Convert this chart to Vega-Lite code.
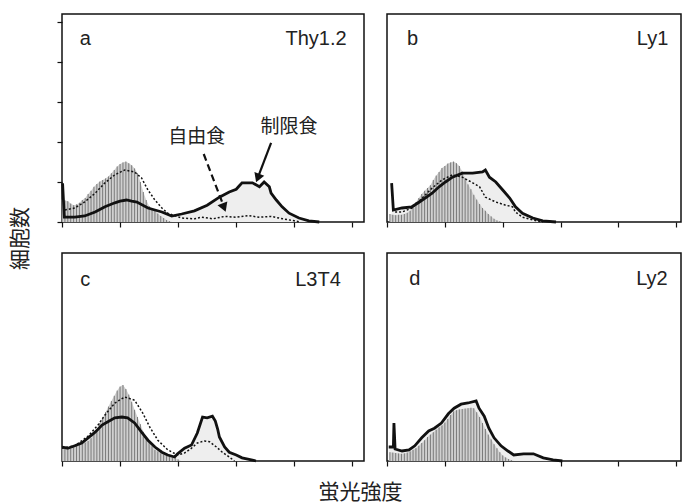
{
"$schema": "https://vega.github.io/schema/vega-lite/v6.json",
"background": "white",
"padding": {"left": 8, "top": 13, "right": 0, "bottom": 0},
"config": {"view": {"stroke": "#111", "strokeWidth": 1.5}, "axis": {"grid": false, "labels": false, "domain": false, "ticks": true, "tickColor": "#111", "tickSize": 5, "tickWidth": 1.2}},
"datasets": {
"labels": [
{"p":"a","letter":"a","marker":"Thy1.2"},
{"p":"b","letter":"b","marker":"Ly1"},
{"p":"c","letter":"c","marker":"L3T4"},
{"p":"d","letter":"d","marker":"Ly2"}
],
"notes": [
{"p":"a","diet":"自由食"},
{"p":"a","diet":"制限食"}
],
"curves": [
{"p":"a","s":"対照","x":0,"y":56},{"p":"a","s":"対照","x":0.05,"y":54},{"p":"a","s":"対照","x":0.1,"y":52},{"p":"a","s":"対照","x":0.15,"y":46},{"p":"a","s":"対照","x":0.2,"y":42},{"p":"a","s":"対照","x":0.25,"y":44},{"p":"a","s":"対照","x":0.3,"y":48},{"p":"a","s":"対照","x":0.35,"y":55},{"p":"a","s":"対照","x":0.4,"y":60},{"p":"a","s":"対照","x":0.45,"y":70},{"p":"a","s":"対照","x":0.5,"y":78},{"p":"a","s":"対照","x":0.55,"y":88},{"p":"a","s":"対照","x":0.6,"y":95},{"p":"a","s":"対照","x":0.65,"y":101},{"p":"a","s":"対照","x":0.7,"y":105},{"p":"a","s":"対照","x":0.75,"y":109},{"p":"a","s":"対照","x":0.8,"y":114},{"p":"a","s":"対照","x":0.85,"y":122},{"p":"a","s":"対照","x":0.9,"y":130},{"p":"a","s":"対照","x":0.95,"y":139},{"p":"a","s":"対照","x":1,"y":145},{"p":"a","s":"対照","x":1.05,"y":149},{"p":"a","s":"対照","x":1.1,"y":151},{"p":"a","s":"対照","x":1.15,"y":147},{"p":"a","s":"対照","x":1.2,"y":142},{"p":"a","s":"対照","x":1.25,"y":134},{"p":"a","s":"対照","x":1.3,"y":122},{"p":"a","s":"対照","x":1.35,"y":100},{"p":"a","s":"対照","x":1.4,"y":75},{"p":"a","s":"対照","x":1.45,"y":55},{"p":"a","s":"対照","x":1.5,"y":40},{"p":"a","s":"対照","x":1.55,"y":33},{"p":"a","s":"対照","x":1.6,"y":28},{"p":"a","s":"対照","x":1.65,"y":21},{"p":"a","s":"対照","x":1.7,"y":15},{"p":"a","s":"対照","x":1.75,"y":10},{"p":"a","s":"対照","x":1.8,"y":5},{"p":"a","s":"対照","x":1.85,"y":2},{"p":"a","s":"対照","x":1.9,"y":0},
{"p":"a","s":"自由食","x":0.05,"y":30},{"p":"a","s":"自由食","x":0.22,"y":35},{"p":"a","s":"自由食","x":0.39,"y":50},{"p":"a","s":"自由食","x":0.57,"y":72},{"p":"a","s":"自由食","x":0.74,"y":98},{"p":"a","s":"自由食","x":0.91,"y":118},{"p":"a","s":"自由食","x":1.08,"y":130},{"p":"a","s":"自由食","x":1.25,"y":125},{"p":"a","s":"自由食","x":1.37,"y":110},{"p":"a","s":"自由食","x":1.48,"y":80},{"p":"a","s":"自由食","x":1.6,"y":55},{"p":"a","s":"自由食","x":1.72,"y":35},{"p":"a","s":"自由食","x":1.82,"y":22},{"p":"a","s":"自由食","x":2.06,"y":10},{"p":"a","s":"自由食","x":2.28,"y":8},{"p":"a","s":"自由食","x":2.4,"y":12},{"p":"a","s":"自由食","x":2.6,"y":8},{"p":"a","s":"自由食","x":2.8,"y":14},{"p":"a","s":"自由食","x":3.0,"y":12},{"p":"a","s":"自由食","x":3.2,"y":16},{"p":"a","s":"自由食","x":3.4,"y":12},{"p":"a","s":"自由食","x":3.6,"y":14},{"p":"a","s":"自由食","x":3.8,"y":8},{"p":"a","s":"自由食","x":4.0,"y":3},{"p":"a","s":"自由食","x":4.1,"y":0},
{"p":"a","s":"制限食","x":0.01,"y":97},{"p":"a","s":"制限食","x":0.04,"y":12},{"p":"a","s":"制限食","x":0.22,"y":12},{"p":"a","s":"制限食","x":0.39,"y":15},{"p":"a","s":"制限食","x":0.57,"y":25},{"p":"a","s":"制限食","x":0.74,"y":38},{"p":"a","s":"制限食","x":0.91,"y":48},{"p":"a","s":"制限食","x":1.0,"y":52},{"p":"a","s":"制限食","x":1.11,"y":55},{"p":"a","s":"制限食","x":1.2,"y":52},{"p":"a","s":"制限食","x":1.29,"y":50},{"p":"a","s":"制限食","x":1.48,"y":35},{"p":"a","s":"制限食","x":1.72,"y":25},{"p":"a","s":"制限食","x":1.89,"y":15},{"p":"a","s":"制限食","x":2.06,"y":20},{"p":"a","s":"制限食","x":2.28,"y":28},{"p":"a","s":"制限食","x":2.5,"y":42},{"p":"a","s":"制限食","x":2.71,"y":62},{"p":"a","s":"制限食","x":2.88,"y":75},{"p":"a","s":"制限食","x":3.0,"y":82},{"p":"a","s":"制限食","x":3.05,"y":90},{"p":"a","s":"制限食","x":3.1,"y":98},{"p":"a","s":"制限食","x":3.28,"y":98},{"p":"a","s":"制限食","x":3.4,"y":88},{"p":"a","s":"制限食","x":3.48,"y":100},{"p":"a","s":"制限食","x":3.57,"y":88},{"p":"a","s":"制限食","x":3.6,"y":72},{"p":"a","s":"制限食","x":3.69,"y":55},{"p":"a","s":"制限食","x":3.79,"y":38},{"p":"a","s":"制限食","x":3.91,"y":22},{"p":"a","s":"制限食","x":4.08,"y":10},{"p":"a","s":"制限食","x":4.25,"y":3},{"p":"a","s":"制限食","x":4.43,"y":0},
{"p":"b","s":"対照","x":0.05,"y":20},{"p":"b","s":"対照","x":0.1,"y":18},{"p":"b","s":"対照","x":0.15,"y":17},{"p":"b","s":"対照","x":0.2,"y":18},{"p":"b","s":"対照","x":0.25,"y":18},{"p":"b","s":"対照","x":0.3,"y":20},{"p":"b","s":"対照","x":0.35,"y":23},{"p":"b","s":"対照","x":0.4,"y":28},{"p":"b","s":"対照","x":0.45,"y":38},{"p":"b","s":"対照","x":0.5,"y":50},{"p":"b","s":"対照","x":0.55,"y":60},{"p":"b","s":"対照","x":0.6,"y":70},{"p":"b","s":"対照","x":0.65,"y":78},{"p":"b","s":"対照","x":0.7,"y":85},{"p":"b","s":"対照","x":0.75,"y":92},{"p":"b","s":"対照","x":0.8,"y":105},{"p":"b","s":"対照","x":0.85,"y":116},{"p":"b","s":"対照","x":0.9,"y":125},{"p":"b","s":"対照","x":0.95,"y":135},{"p":"b","s":"対照","x":1.0,"y":140},{"p":"b","s":"対照","x":1.05,"y":146},{"p":"b","s":"対照","x":1.1,"y":149},{"p":"b","s":"対照","x":1.15,"y":151},{"p":"b","s":"対照","x":1.2,"y":147},{"p":"b","s":"対照","x":1.25,"y":140},{"p":"b","s":"対照","x":1.3,"y":126},{"p":"b","s":"対照","x":1.35,"y":110},{"p":"b","s":"対照","x":1.4,"y":94},{"p":"b","s":"対照","x":1.45,"y":82},{"p":"b","s":"対照","x":1.5,"y":68},{"p":"b","s":"対照","x":1.55,"y":56},{"p":"b","s":"対照","x":1.6,"y":45},{"p":"b","s":"対照","x":1.65,"y":35},{"p":"b","s":"対照","x":1.7,"y":28},{"p":"b","s":"対照","x":1.75,"y":20},{"p":"b","s":"対照","x":1.8,"y":14},{"p":"b","s":"対照","x":1.85,"y":8},{"p":"b","s":"対照","x":1.9,"y":4},{"p":"b","s":"対照","x":1.95,"y":2},{"p":"b","s":"対照","x":2.0,"y":0},
{"p":"b","s":"自由食","x":0.14,"y":25},{"p":"b","s":"自由食","x":0.26,"y":25},{"p":"b","s":"自由食","x":0.43,"y":35},{"p":"b","s":"自由食","x":0.61,"y":60},{"p":"b","s":"自由食","x":0.78,"y":85},{"p":"b","s":"自由食","x":0.95,"y":105},{"p":"b","s":"自由食","x":1.13,"y":118},{"p":"b","s":"自由食","x":1.3,"y":112},{"p":"b","s":"自由食","x":1.48,"y":98},{"p":"b","s":"自由食","x":1.6,"y":88},{"p":"b","s":"自由食","x":1.7,"y":62},{"p":"b","s":"自由食","x":1.88,"y":50},{"p":"b","s":"自由食","x":2.05,"y":42},{"p":"b","s":"自由食","x":2.17,"y":38},{"p":"b","s":"自由食","x":2.22,"y":25},{"p":"b","s":"自由食","x":2.34,"y":12},{"p":"b","s":"自由食","x":2.52,"y":5},{"p":"b","s":"自由食","x":2.69,"y":0},
{"p":"b","s":"制限食","x":0.08,"y":97},{"p":"b","s":"制限食","x":0.11,"y":30},{"p":"b","s":"制限食","x":0.26,"y":35},{"p":"b","s":"制限食","x":0.43,"y":38},{"p":"b","s":"制限食","x":0.56,"y":50},{"p":"b","s":"制限食","x":0.66,"y":60},{"p":"b","s":"制限食","x":0.78,"y":72},{"p":"b","s":"制限食","x":0.9,"y":88},{"p":"b","s":"制限食","x":1.01,"y":100},{"p":"b","s":"制限食","x":1.13,"y":112},{"p":"b","s":"制限食","x":1.3,"y":122},{"p":"b","s":"制限食","x":1.48,"y":122},{"p":"b","s":"制限食","x":1.65,"y":125},{"p":"b","s":"制限食","x":1.7,"y":130},{"p":"b","s":"制限食","x":1.77,"y":112},{"p":"b","s":"制限食","x":1.88,"y":100},{"p":"b","s":"制限食","x":2.0,"y":80},{"p":"b","s":"制限食","x":2.12,"y":60},{"p":"b","s":"制限食","x":2.22,"y":38},{"p":"b","s":"制限食","x":2.34,"y":22},{"p":"b","s":"制限食","x":2.52,"y":10},{"p":"b","s":"制限食","x":2.69,"y":3},{"p":"b","s":"制限食","x":2.92,"y":0},
{"p":"c","s":"対照","x":0,"y":35},{"p":"c","s":"対照","x":0.05,"y":32},{"p":"c","s":"対照","x":0.1,"y":28},{"p":"c","s":"対照","x":0.15,"y":30},{"p":"c","s":"対照","x":0.2,"y":34},{"p":"c","s":"対照","x":0.25,"y":38},{"p":"c","s":"対照","x":0.3,"y":40},{"p":"c","s":"対照","x":0.35,"y":43},{"p":"c","s":"対照","x":0.4,"y":46},{"p":"c","s":"対照","x":0.45,"y":50},{"p":"c","s":"対照","x":0.5,"y":57},{"p":"c","s":"対照","x":0.55,"y":68},{"p":"c","s":"対照","x":0.6,"y":80},{"p":"c","s":"対照","x":0.65,"y":95},{"p":"c","s":"対照","x":0.7,"y":108},{"p":"c","s":"対照","x":0.75,"y":122},{"p":"c","s":"対照","x":0.8,"y":136},{"p":"c","s":"対照","x":0.85,"y":150},{"p":"c","s":"対照","x":0.9,"y":163},{"p":"c","s":"対照","x":0.95,"y":176},{"p":"c","s":"対照","x":1.0,"y":186},{"p":"c","s":"対照","x":1.05,"y":190},{"p":"c","s":"対照","x":1.1,"y":180},{"p":"c","s":"対照","x":1.15,"y":166},{"p":"c","s":"対照","x":1.2,"y":148},{"p":"c","s":"対照","x":1.25,"y":128},{"p":"c","s":"対照","x":1.3,"y":110},{"p":"c","s":"対照","x":1.35,"y":92},{"p":"c","s":"対照","x":1.4,"y":73},{"p":"c","s":"対照","x":1.45,"y":60},{"p":"c","s":"対照","x":1.5,"y":47},{"p":"c","s":"対照","x":1.55,"y":37},{"p":"c","s":"対照","x":1.6,"y":28},{"p":"c","s":"対照","x":1.65,"y":24},{"p":"c","s":"対照","x":1.7,"y":19},{"p":"c","s":"対照","x":1.75,"y":16},{"p":"c","s":"対照","x":1.8,"y":13},{"p":"c","s":"対照","x":1.85,"y":11},{"p":"c","s":"対照","x":1.9,"y":9},{"p":"c","s":"対照","x":1.95,"y":7},{"p":"c","s":"対照","x":2.0,"y":4},{"p":"c","s":"対照","x":2.05,"y":0},
{"p":"c","s":"自由食","x":0,"y":32},{"p":"c","s":"自由食","x":0.22,"y":38},{"p":"c","s":"自由食","x":0.45,"y":62},{"p":"c","s":"自由食","x":0.62,"y":90},{"p":"c","s":"自由食","x":0.74,"y":115},{"p":"c","s":"自由食","x":0.91,"y":145},{"p":"c","s":"自由食","x":1.08,"y":160},{"p":"c","s":"自由食","x":1.25,"y":152},{"p":"c","s":"自由食","x":1.39,"y":120},{"p":"c","s":"自由食","x":1.51,"y":85},{"p":"c","s":"自由食","x":1.65,"y":52},{"p":"c","s":"自由食","x":1.82,"y":28},{"p":"c","s":"自由食","x":1.99,"y":15},{"p":"c","s":"自由食","x":2.11,"y":20},{"p":"c","s":"自由食","x":2.23,"y":32},{"p":"c","s":"自由食","x":2.33,"y":45},{"p":"c","s":"自由食","x":2.45,"y":50},{"p":"c","s":"自由食","x":2.54,"y":48},{"p":"c","s":"自由食","x":2.66,"y":35},{"p":"c","s":"自由食","x":2.76,"y":22},{"p":"c","s":"自由食","x":2.88,"y":10},{"p":"c","s":"自由食","x":2.97,"y":0},
{"p":"c","s":"制限食","x":0,"y":35},{"p":"c","s":"制限食","x":0.1,"y":32},{"p":"c","s":"制限食","x":0.22,"y":38},{"p":"c","s":"制限食","x":0.34,"y":45},{"p":"c","s":"制限食","x":0.45,"y":58},{"p":"c","s":"制限食","x":0.57,"y":72},{"p":"c","s":"制限食","x":0.69,"y":90},{"p":"c","s":"制限食","x":0.79,"y":98},{"p":"c","s":"制限食","x":0.91,"y":108},{"p":"c","s":"制限食","x":1.03,"y":110},{"p":"c","s":"制限食","x":1.13,"y":108},{"p":"c","s":"制限食","x":1.25,"y":95},{"p":"c","s":"制限食","x":1.37,"y":72},{"p":"c","s":"制限食","x":1.48,"y":52},{"p":"c","s":"制限食","x":1.6,"y":35},{"p":"c","s":"制限食","x":1.72,"y":22},{"p":"c","s":"制限食","x":1.82,"y":15},{"p":"c","s":"制限食","x":1.94,"y":10},{"p":"c","s":"制限食","x":1.99,"y":18},{"p":"c","s":"制限食","x":2.11,"y":32},{"p":"c","s":"制限食","x":2.23,"y":40},{"p":"c","s":"制限食","x":2.33,"y":70},{"p":"c","s":"制限食","x":2.42,"y":110},{"p":"c","s":"制限食","x":2.5,"y":108},{"p":"c","s":"制限食","x":2.59,"y":112},{"p":"c","s":"制限食","x":2.64,"y":100},{"p":"c","s":"制限食","x":2.68,"y":80},{"p":"c","s":"制限食","x":2.71,"y":60},{"p":"c","s":"制限食","x":2.8,"y":35},{"p":"c","s":"制限食","x":2.88,"y":22},{"p":"c","s":"制限食","x":3.0,"y":15},{"p":"c","s":"制限食","x":3.1,"y":8},{"p":"c","s":"制限食","x":3.28,"y":2},{"p":"c","s":"制限食","x":3.34,"y":0},
{"p":"d","s":"対照","x":0.05,"y":22},{"p":"d","s":"対照","x":0.1,"y":21},{"p":"d","s":"対照","x":0.15,"y":20},{"p":"d","s":"対照","x":0.2,"y":19},{"p":"d","s":"対照","x":0.25,"y":18},{"p":"d","s":"対照","x":0.3,"y":19},{"p":"d","s":"対照","x":0.35,"y":21},{"p":"d","s":"対照","x":0.4,"y":24},{"p":"d","s":"対照","x":0.45,"y":28},{"p":"d","s":"対照","x":0.5,"y":32},{"p":"d","s":"対照","x":0.55,"y":38},{"p":"d","s":"対照","x":0.6,"y":45},{"p":"d","s":"対照","x":0.65,"y":52},{"p":"d","s":"対照","x":0.7,"y":60},{"p":"d","s":"対照","x":0.75,"y":66},{"p":"d","s":"対照","x":0.8,"y":72},{"p":"d","s":"対照","x":0.85,"y":78},{"p":"d","s":"対照","x":0.9,"y":84},{"p":"d","s":"対照","x":0.95,"y":89},{"p":"d","s":"対照","x":1.0,"y":96},{"p":"d","s":"対照","x":1.05,"y":105},{"p":"d","s":"対照","x":1.1,"y":115},{"p":"d","s":"対照","x":1.15,"y":124},{"p":"d","s":"対照","x":1.2,"y":127},{"p":"d","s":"対照","x":1.25,"y":129},{"p":"d","s":"対照","x":1.3,"y":130},{"p":"d","s":"対照","x":1.35,"y":131},{"p":"d","s":"対照","x":1.4,"y":132},{"p":"d","s":"対照","x":1.45,"y":133},{"p":"d","s":"対照","x":1.5,"y":132},{"p":"d","s":"対照","x":1.55,"y":122},{"p":"d","s":"対照","x":1.6,"y":110},{"p":"d","s":"対照","x":1.65,"y":95},{"p":"d","s":"対照","x":1.7,"y":80},{"p":"d","s":"対照","x":1.75,"y":66},{"p":"d","s":"対照","x":1.8,"y":54},{"p":"d","s":"対照","x":1.85,"y":42},{"p":"d","s":"対照","x":1.9,"y":32},{"p":"d","s":"対照","x":1.95,"y":22},{"p":"d","s":"対照","x":2.0,"y":14},{"p":"d","s":"対照","x":2.05,"y":9},{"p":"d","s":"対照","x":2.1,"y":5},{"p":"d","s":"対照","x":2.15,"y":2},{"p":"d","s":"対照","x":2.2,"y":0},
{"p":"d","s":"制限食","x":0.03,"y":35},{"p":"d","s":"制限食","x":0.11,"y":35},{"p":"d","s":"制限食","x":0.12,"y":95},{"p":"d","s":"制限食","x":0.14,"y":30},{"p":"d","s":"制限食","x":0.26,"y":25},{"p":"d","s":"制限食","x":0.38,"y":28},{"p":"d","s":"制限食","x":0.48,"y":38},{"p":"d","s":"制限食","x":0.6,"y":58},{"p":"d","s":"制限食","x":0.72,"y":75},{"p":"d","s":"制限食","x":0.82,"y":82},{"p":"d","s":"制限食","x":0.94,"y":95},{"p":"d","s":"制限食","x":1.06,"y":118},{"p":"d","s":"制限食","x":1.16,"y":132},{"p":"d","s":"制限食","x":1.28,"y":142},{"p":"d","s":"制限食","x":1.4,"y":145},{"p":"d","s":"制限食","x":1.54,"y":150},{"p":"d","s":"制限食","x":1.59,"y":132},{"p":"d","s":"制限食","x":1.68,"y":112},{"p":"d","s":"制限食","x":1.76,"y":82},{"p":"d","s":"制限食","x":1.85,"y":58},{"p":"d","s":"制限食","x":1.97,"y":38},{"p":"d","s":"制限食","x":2.09,"y":25},{"p":"d","s":"制限食","x":2.19,"y":15},{"p":"d","s":"制限食","x":2.36,"y":18},{"p":"d","s":"制限食","x":2.53,"y":18},{"p":"d","s":"制限食","x":2.7,"y":8},{"p":"d","s":"制限食","x":2.87,"y":3},{"p":"d","s":"制限食","x":3.03,"y":0}
]},
"concat": [
{
 "width": 302, "height": 208,
 "layer": [
  {"data": {"name": "curves"}, "transform": [{"filter": "datum.p === 'a' && datum.s === '制限食'"}], "mark": {"type": "area", "color": "#eeeeee"},
   "encoding": {
    "x": {"field": "x", "type": "quantitative", "scale": {"domain": [0, 5.2], "nice": false, "zero": false}, "axis": {"values": [0,1,2,3,4,5], "title": null}},
    "y": {"field": "y", "type": "quantitative", "scale": {"domain": [0, 520], "nice": false}, "axis": {"values": [0,100,200,300,400,500], "title": "細胞数", "titleX": -42, "titleY": 224, "titleAngle": -90, "titleAlign": "center", "titleBaseline": "middle", "titleFont": "Noto Sans CJK JP", "titleFontSize": 21, "titleFontWeight": "normal", "titleColor": "#222"}}}},
  {"data": {"name": "curves"}, "transform": [{"filter": "datum.p === 'a' && datum.s === '対照'"}], "mark": {"type": "area", "color": "#d0d0d0"}, "encoding": {"x": {"field": "x", "type": "quantitative"}, "y": {"field": "y", "type": "quantitative"}}},
  {"data": {"name": "curves"}, "transform": [{"filter": "datum.p === 'a' && datum.s === '対照'"}], "mark": {"type": "rule", "color": "#7a7a7a", "strokeWidth": 1}, "encoding": {"x": {"field": "x", "type": "quantitative"}, "y": {"field": "y", "type": "quantitative"}, "y2": {"datum": 0}}},
  {"data": {"name": "curves"}, "transform": [{"filter": "datum.p === 'a' && datum.s === '自由食'"}], "mark": {"type": "line", "color": "#111", "strokeWidth": 1.5, "strokeDash": [2, 2]}, "encoding": {"x": {"field": "x", "type": "quantitative"}, "y": {"field": "y", "type": "quantitative"}}},
  {"data": {"name": "curves"}, "transform": [{"filter": "datum.p === 'a' && datum.s === '制限食'"}], "mark": {"type": "line", "color": "#111", "strokeWidth": 2.8}, "encoding": {"x": {"field": "x", "type": "quantitative"}, "y": {"field": "y", "type": "quantitative"}}},
  {"data": {"name": "labels"}, "transform": [{"filter": "datum.p === 'a'"}], "mark": {"type": "text", "font": "Liberation Sans", "fontSize": 20, "fill": "#222", "align": "center", "baseline": "middle"}, "encoding": {"x": {"datum": 0.4}, "y": {"datum": 458}, "text": {"field": "letter"}}},
  {"data": {"name": "labels"}, "transform": [{"filter": "datum.p === 'a'"}], "mark": {"type": "text", "font": "Liberation Sans", "fontSize": 20, "fill": "#222", "align": "right", "baseline": "middle"}, "encoding": {"x": {"datum": 4.9}, "y": {"datum": 458}, "text": {"field": "marker"}}},
  {"data": {"name": "notes"}, "transform": [{"filter": "datum.diet === '自由食'"}], "mark": {"type": "text", "font": "Noto Sans CJK JP", "fontSize": 19, "fill": "#222", "align": "center", "baseline": "middle"}, "encoding": {"x": {"datum": 2.32}, "y": {"datum": 212}, "text": {"field": "diet"}}},
  {"data": {"name": "notes"}, "transform": [{"filter": "datum.diet === '制限食'"}], "mark": {"type": "text", "font": "Noto Sans CJK JP", "fontSize": 19, "fill": "#222", "align": "center", "baseline": "middle"}, "encoding": {"x": {"datum": 3.91}, "y": {"datum": 238}, "text": {"field": "diet"}}},
  {"data": {"name": "notes"}, "transform": [{"filter": "datum.diet === '自由食'"}], "mark": {"type": "rule", "color": "#111", "strokeWidth": 2.2, "strokeDash": [7, 4]}, "encoding": {"x": {"datum": 2.44}, "y": {"datum": 170}, "x2": {"datum": 2.77}, "y2": {"datum": 45}}},
  {"data": {"name": "notes"}, "transform": [{"filter": "datum.diet === '制限食'"}], "mark": {"type": "rule", "color": "#111", "strokeWidth": 2.2}, "encoding": {"x": {"datum": 3.6}, "y": {"datum": 198}, "x2": {"datum": 3.39}, "y2": {"datum": 118}}},
  {"data": {"name": "notes"}, "transform": [{"filter": "datum.diet === '自由食'"}], "mark": {"type": "point", "shape": "triangle-up", "filled": true, "color": "#111", "size": 110, "angle": 159, "opacity": 1}, "encoding": {"x": {"datum": 2.79}, "y": {"datum": 36}}},
  {"data": {"name": "notes"}, "transform": [{"filter": "datum.diet === '制限食'"}], "mark": {"type": "point", "shape": "triangle-up", "filled": true, "color": "#111", "size": 110, "angle": 201, "opacity": 1}, "encoding": {"x": {"datum": 3.37}, "y": {"datum": 110}}}
 ]
},
{
 "width": 294, "height": 208,
 "layer": [
  {"data": {"name": "curves"}, "transform": [{"filter": "datum.p === 'b' && datum.s === '制限食'"}], "mark": {"type": "area", "color": "#eeeeee"},
   "encoding": {
    "x": {"field": "x", "type": "quantitative", "scale": {"domain": [0, 5.08], "nice": false, "zero": false}, "axis": {"values": [0,1,2,3,4,5], "title": null}},
    "y": {"field": "y", "type": "quantitative", "scale": {"domain": [0, 520], "nice": false}, "axis": null}}},
  {"data": {"name": "curves"}, "transform": [{"filter": "datum.p === 'b' && datum.s === '対照'"}], "mark": {"type": "area", "color": "#d0d0d0"}, "encoding": {"x": {"field": "x", "type": "quantitative"}, "y": {"field": "y", "type": "quantitative", "axis": null}}},
  {"data": {"name": "curves"}, "transform": [{"filter": "datum.p === 'b' && datum.s === '対照'"}], "mark": {"type": "rule", "color": "#7a7a7a", "strokeWidth": 1}, "encoding": {"x": {"field": "x", "type": "quantitative"}, "y": {"field": "y", "type": "quantitative", "axis": null}, "y2": {"datum": 0}}},
  {"data": {"name": "curves"}, "transform": [{"filter": "datum.p === 'b' && datum.s === '自由食'"}], "mark": {"type": "line", "color": "#111", "strokeWidth": 1.5, "strokeDash": [2, 2]}, "encoding": {"x": {"field": "x", "type": "quantitative"}, "y": {"field": "y", "type": "quantitative", "axis": null}}},
  {"data": {"name": "curves"}, "transform": [{"filter": "datum.p === 'b' && datum.s === '制限食'"}], "mark": {"type": "line", "color": "#111", "strokeWidth": 2.8}, "encoding": {"x": {"field": "x", "type": "quantitative"}, "y": {"field": "y", "type": "quantitative", "axis": null}}},
  {"data": {"name": "labels"}, "transform": [{"filter": "datum.p === 'b'"}], "mark": {"type": "text", "font": "Liberation Sans", "fontSize": 20, "fill": "#222", "align": "center", "baseline": "middle"}, "encoding": {"x": {"datum": 0.44}, "y": {"datum": 458, "axis": null}, "text": {"field": "letter"}}},
  {"data": {"name": "labels"}, "transform": [{"filter": "datum.p === 'b'"}], "mark": {"type": "text", "font": "Liberation Sans", "fontSize": 20, "fill": "#222", "align": "right", "baseline": "middle"}, "encoding": {"x": {"datum": 4.86}, "y": {"datum": 458, "axis": null}, "text": {"field": "marker"}}}
 ]
},
{
 "width": 302, "height": 208,
 "layer": [
  {"data": {"name": "curves"}, "transform": [{"filter": "datum.p === 'c' && datum.s === '制限食'"}], "mark": {"type": "area", "color": "#eeeeee"},
   "encoding": {
    "x": {"field": "x", "type": "quantitative", "scale": {"domain": [0, 5.2], "nice": false, "zero": false}, "axis": {"values": [0,1,2,3,4,5], "title": "蛍光強度", "titleX": 298, "titleY": 31, "titleAlign": "center", "titleBaseline": "middle", "titleFont": "Noto Sans CJK JP", "titleFontSize": 21, "titleFontWeight": "normal", "titleColor": "#222"}},
    "y": {"field": "y", "type": "quantitative", "scale": {"domain": [0, 520], "nice": false}, "axis": null}}},
  {"data": {"name": "curves"}, "transform": [{"filter": "datum.p === 'c' && datum.s === '対照'"}], "mark": {"type": "area", "color": "#d0d0d0"}, "encoding": {"x": {"field": "x", "type": "quantitative"}, "y": {"field": "y", "type": "quantitative", "axis": null}}},
  {"data": {"name": "curves"}, "transform": [{"filter": "datum.p === 'c' && datum.s === '対照'"}], "mark": {"type": "rule", "color": "#7a7a7a", "strokeWidth": 1}, "encoding": {"x": {"field": "x", "type": "quantitative"}, "y": {"field": "y", "type": "quantitative", "axis": null}, "y2": {"datum": 0}}},
  {"data": {"name": "curves"}, "transform": [{"filter": "datum.p === 'c' && datum.s === '自由食'"}], "mark": {"type": "line", "color": "#111", "strokeWidth": 1.5, "strokeDash": [2, 2]}, "encoding": {"x": {"field": "x", "type": "quantitative"}, "y": {"field": "y", "type": "quantitative", "axis": null}}},
  {"data": {"name": "curves"}, "transform": [{"filter": "datum.p === 'c' && datum.s === '制限食'"}], "mark": {"type": "line", "color": "#111", "strokeWidth": 2.8}, "encoding": {"x": {"field": "x", "type": "quantitative"}, "y": {"field": "y", "type": "quantitative", "axis": null}}},
  {"data": {"name": "labels"}, "transform": [{"filter": "datum.p === 'c'"}], "mark": {"type": "text", "font": "Liberation Sans", "fontSize": 20, "fill": "#222", "align": "center", "baseline": "middle"}, "encoding": {"x": {"datum": 0.4}, "y": {"datum": 452, "axis": null}, "text": {"field": "letter"}}},
  {"data": {"name": "labels"}, "transform": [{"filter": "datum.p === 'c'"}], "mark": {"type": "text", "font": "Liberation Sans", "fontSize": 20, "fill": "#222", "align": "right", "baseline": "middle"}, "encoding": {"x": {"datum": 4.8}, "y": {"datum": 452, "axis": null}, "text": {"field": "marker"}}}
 ]
},
{
 "width": 294, "height": 208,
 "layer": [
  {"data": {"name": "curves"}, "transform": [{"filter": "datum.p === 'd' && datum.s === '制限食'"}], "mark": {"type": "area", "color": "#eeeeee"},
   "encoding": {
    "x": {"field": "x", "type": "quantitative", "scale": {"domain": [0, 5.08], "nice": false, "zero": false}, "axis": {"values": [0,1,2,3,4,5], "title": null}},
    "y": {"field": "y", "type": "quantitative", "scale": {"domain": [0, 520], "nice": false}, "axis": null}}},
  {"data": {"name": "curves"}, "transform": [{"filter": "datum.p === 'd' && datum.s === '対照'"}], "mark": {"type": "area", "color": "#d0d0d0"}, "encoding": {"x": {"field": "x", "type": "quantitative"}, "y": {"field": "y", "type": "quantitative", "axis": null}}},
  {"data": {"name": "curves"}, "transform": [{"filter": "datum.p === 'd' && datum.s === '対照'"}], "mark": {"type": "rule", "color": "#7a7a7a", "strokeWidth": 1}, "encoding": {"x": {"field": "x", "type": "quantitative"}, "y": {"field": "y", "type": "quantitative", "axis": null}, "y2": {"datum": 0}}},
  {"data": {"name": "curves"}, "transform": [{"filter": "datum.p === 'd' && datum.s === '制限食'"}], "mark": {"type": "line", "color": "#111", "strokeWidth": 2.8}, "encoding": {"x": {"field": "x", "type": "quantitative"}, "y": {"field": "y", "type": "quantitative", "axis": null}}},
  {"data": {"name": "labels"}, "transform": [{"filter": "datum.p === 'd'"}], "mark": {"type": "text", "font": "Liberation Sans", "fontSize": 20, "fill": "#222", "align": "center", "baseline": "middle"}, "encoding": {"x": {"datum": 0.48}, "y": {"datum": 455, "axis": null}, "text": {"field": "letter"}}},
  {"data": {"name": "labels"}, "transform": [{"filter": "datum.p === 'd'"}], "mark": {"type": "text", "font": "Liberation Sans", "fontSize": 20, "fill": "#222", "align": "right", "baseline": "middle"}, "encoding": {"x": {"datum": 4.85}, "y": {"datum": 455, "axis": null}, "text": {"field": "marker"}}}
 ]
}
],
"columns": 2,
"spacing": {"row": 31, "column": 23},
"bounds": "flush"
}
